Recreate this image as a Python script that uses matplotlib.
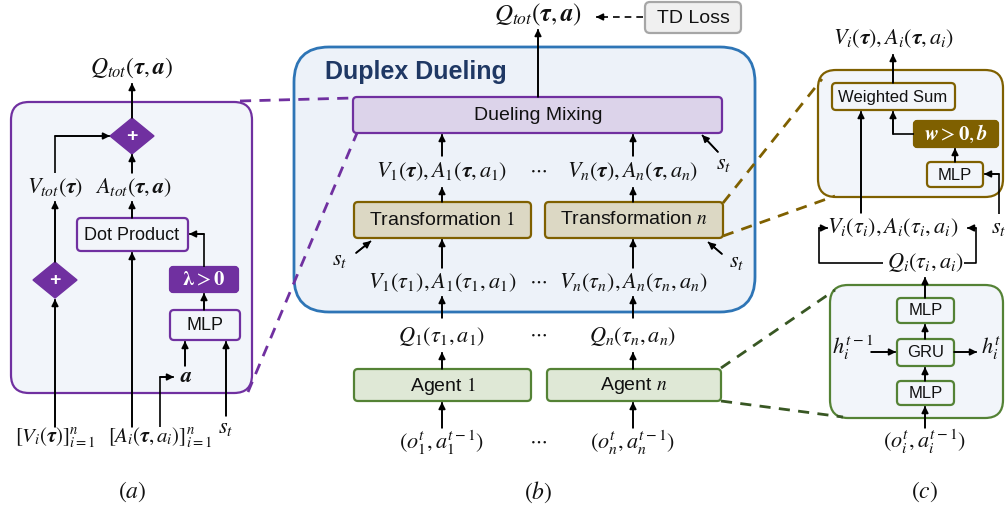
import matplotlib.pyplot as plt
from matplotlib.patches import FancyBboxPatch, Polygon

plt.rcParams['font.family'] = ['Liberation Sans', 'DejaVu Sans']
plt.rcParams['mathtext.fontset'] = 'stix'

# texte des trois panneaux
panel_tags = ["$(a)$", "$(b)$", "$(c)$"]

# panneau (a)
a_output = r"$Q_{tot}(\boldsymbol{\tau},\boldsymbol{a})$"
a_mid = [r"$V_{tot}(\boldsymbol{\tau})$", r"$A_{tot}(\boldsymbol{\tau},\boldsymbol{a})$"]
a_boxes = ["Dot Product", r"$\boldsymbol{\lambda}>\mathbf{0}$", "MLP"]
a_inputs = [r"$[V_i(\boldsymbol{\tau})]_{i=1}^{n}$",
            r"$[A_i(\boldsymbol{\tau},a_i)]_{i=1}^{n}$", r"$s_t$"]
a_action = r"$\boldsymbol{a}$"

# panneau (b)
b_output = r"$Q_{tot}(\boldsymbol{\tau},\boldsymbol{a})$"
b_title = "Duplex Dueling"
b_loss = "TD Loss"
b_mixing = "Dueling Mixing"
b_transform = ["Transformation $1$", "Transformation $n$"]
b_agents = ["Agent $1$", "Agent $n$"]
b_row_global = [r"$V_1(\boldsymbol{\tau}),A_1(\boldsymbol{\tau},a_1)$",
                r"$V_n(\boldsymbol{\tau}),A_n(\boldsymbol{\tau},a_n)$"]
b_row_local = [r"$V_1(\tau_1),A_1(\tau_1,a_1)$", r"$V_n(\tau_n),A_n(\tau_n,a_n)$"]
b_row_q = [r"$Q_1(\tau_1,a_1)$", r"$Q_n(\tau_n,a_n)$"]
b_row_obs = [r"$(o_1^t,a_1^{t-1})$", r"$(o_n^t,a_n^{t-1})$"]

# panneau (c)
c_output = r"$V_i(\boldsymbol{\tau}),A_i(\boldsymbol{\tau},a_i)$"
c_local = r"$V_i(\tau_i),A_i(\tau_i,a_i)$"
c_q = r"$Q_i(\tau_i,a_i)$"
c_boxes = ["Weighted Sum", r"$\boldsymbol{w}>\mathbf{0},\boldsymbol{b}$", "MLP"]
c_agent_boxes = ["MLP", "GRU", "MLP"]
c_hidden = [r"$h_i^{t-1}$", r"$h_i^{t}$"]
c_obs = r"$(o_i^t,a_i^{t-1})$"

# couleurs
roxo = '#7030a0'
fundo = '#f2f5fa'
azul = '#2e75b6'
oliva = '#7f6000'
verde = '#548235'
M = 16  # taille des formules

fig = plt.figure(figsize=(10.05, 5.09), dpi=100)
ax = fig.add_axes([0, 0, 1, 1])
ax.set_xlim(0, 1005)
ax.set_ylim(509, 0)
ax.axis('off')


def caixa(x0, y0, x1, y1, fc, ec, r=4, lw=1.6, z=3):
    ax.add_patch(FancyBboxPatch((x0, y0), x1 - x0, y1 - y0,
                                boxstyle=f"round,pad=0,rounding_size={r}",
                                fc=fc, ec=ec, lw=lw, zorder=z))


def texto(x, y, s, size=13, color='#111111', **kw):
    ax.text(x, y, s, ha=kw.pop('ha', 'center'), va=kw.pop('va', 'center'),
            fontsize=size, color=color, zorder=6, **kw)


def seta(pts, color='black', lw=1.2, ls='-'):
    xs = [p[0] for p in pts]
    ys = [p[1] for p in pts]
    ax.plot(xs, ys, color=color, lw=lw, ls=ls, zorder=4, solid_capstyle='butt')
    ax.annotate('', xy=pts[-1], xytext=pts[-2],
                arrowprops=dict(arrowstyle='-|>', color=color, lw=lw,
                                mutation_scale=10, shrinkA=0, shrinkB=0),
                zorder=5)


def losango(cx, cy, w=22, h=18):
    ax.add_patch(Polygon([(cx - w, cy), (cx, cy - h), (cx + w, cy), (cx, cy + h)],
                         closed=True, fc=roxo, ec=roxo, zorder=3))
    texto(cx, cy, "+", size=14, color='white', fontweight='bold')


def tracejada(p0, p1, color):
    ax.plot([p0[0], p1[0]], [p0[1], p1[1]], color=color, lw=2, ls=(0, (4, 3)), zorder=2)


# ---------------- painel (a)
caixa(11, 102, 252, 393, fundo, roxo, r=18, z=1)
texto(132, 68, a_output, size=17)
seta([(132, 118), (132, 83)])
losango(132, 136)
texto(55, 188, a_mid[0], size=M)
texto(133, 188, a_mid[1], size=M)
seta([(55, 173), (55, 136), (110, 136)])
seta([(132, 173), (132, 154)])
caixa(77, 218, 188, 251, fundo, roxo)
texto(132, 235, a_boxes[0], size=13)
seta([(132, 218), (132, 201)])
losango(55, 280)
seta([(55, 262), (55, 201)])
seta([(55, 427), (55, 299)])
caixa(170, 267, 238, 292, roxo, roxo, r=3)
texto(204, 280, a_boxes[1], size=15, color='white')
seta([(204, 267), (204, 234), (189, 234)])
caixa(170, 310, 240, 340, fundo, roxo)
texto(205, 325, a_boxes[2], size=13)
seta([(204, 310), (204, 293)])
texto(186, 377, a_action, size=M)
seta([(185, 366), (185, 341)])
seta([(160, 427), (160, 377), (174, 377)])
seta([(132, 427), (132, 252)])
seta([(226, 416), (226, 341)])
texto(55, 438, a_inputs[0], size=15)
texto(160, 438, a_inputs[1], size=15)
texto(226, 428, a_inputs[2], size=M)
texto(132, 492, panel_tags[0], size=17)
tracejada((240, 101), (353, 98), roxo)
tracejada((248, 392), (357, 133), roxo)

# ---------------- painel (b)
caixa(294, 47, 755, 312, '#edf2f9', azul, r=35, lw=2, z=1)
texto(325, 72, b_title, size=18, color='#1f3864', ha='left', fontweight='bold')
texto(538, 15, b_output, size=18)
caixa(645, 2, 741, 33, '#f0f0f0', '#a6a6a6', r=5)
texto(693, 18, b_loss, size=14)
ax.plot([643, 604], [17, 17], color='black', lw=1.2, ls=(0, (4, 3)), zorder=4)
seta([(604, 17), (596, 17)])
seta([(538, 97), (538, 29)])
caixa(353, 97, 722, 133, '#dcd3ea', roxo)
texto(538, 115, b_mixing, size=14)
for x, lab in zip([442, 633], b_row_global):
    texto(x, 172, lab, size=M)
    seta([(x, 156), (x, 134)])
    seta([(x, 202), (x, 187)])
texto(538, 170, r"$\cdots$", size=14)
texto(724, 163, r"$s_t$", size=M)
seta([(718, 152), (702, 135)])
for (x0, x1), lab in zip([(354, 531), (545, 723)], b_transform):
    caixa(x0, 202, x1, 238, '#dcd8c4', oliva)
    texto((x0 + x1) / 2, 220, lab, size=14)
texto(340, 259, r"$s_t$", size=M)
seta([(356, 253), (371, 241)])
texto(737, 262, r"$s_t$", size=M)
seta([(722, 254), (708, 242)])
for x, lab in zip([442, 633], b_row_local):
    texto(x, 283, lab, size=M)
    seta([(x, 268), (x, 239)])
    seta([(x, 318), (x, 296)])
texto(538, 281, r"$\cdots$", size=14)
for x, lab in zip([442, 633], b_row_q):
    texto(x, 337, lab, size=M)
    seta([(x, 369), (x, 352)])
texto(538, 334, r"$\cdots$", size=14)
for (x0, x1), lab in zip([(354, 531), (547, 721)], b_agents):
    caixa(x0, 369, x1, 401, '#dfe8d6', verde)
    texto((x0 + x1) / 2, 386, lab, size=14)
for x, lab in zip([442, 633], b_row_obs):
    texto(x, 443, lab, size=M)
    seta([(x, 428), (x, 402)])
texto(538, 441, r"$\cdots$", size=14)
texto(538, 492, panel_tags[1], size=17)
tracejada((723, 203), (822, 79), oliva)
tracejada((723, 236), (835, 196), oliva)
tracejada((721, 368), (835, 290), '#385723')
tracejada((721, 401), (843, 417), '#385723')

# ---------------- painel (c)
caixa(818, 70, 1003, 197, fundo, oliva, r=18, z=1)
texto(893, 39, c_output, size=M)
seta([(893, 83), (893, 54)])
caixa(832, 83, 955, 110, fundo, oliva)
texto(893, 97, c_boxes[0], size=12)
caixa(914, 121, 998, 147, oliva, oliva, r=3)
texto(956, 134, c_boxes[1], size=15, color='white')
seta([(914, 134), (893, 134), (893, 111)])
caixa(927, 162, 983, 187, fundo, oliva)
texto(955, 175, c_boxes[2], size=12)
seta([(955, 162), (955, 148)])
seta([(861, 213), (861, 111)])
texto(999, 228, r"$s_t$", size=M)
seta([(999, 214), (999, 174), (984, 174)])
texto(893, 228, c_local, size=M)
texto(925, 263, c_q, size=M)
seta([(883, 263), (819, 263), (819, 228), (828, 228)])
seta([(964, 263), (976, 263), (976, 228), (967, 228)])
caixa(830, 285, 1003, 418, fundo, verde, r=18, z=1)
for (y0, y1), lab in zip([(298, 323), (339, 366), (381, 405)], c_agent_boxes):
    caixa(897, y0, 954, y1, fundo, verde)
    texto(925.5, (y0 + y1) / 2, lab, size=12)
seta([(925, 298), (925, 277)])
seta([(925, 339), (925, 324)])
seta([(925, 381), (925, 367)])
seta([(925, 428), (925, 406)])
texto(853, 348, c_hidden[0], size=M)
seta([(871, 352), (896, 352)])
seta([(954, 352), (977, 352)])
texto(991, 348, c_hidden[1], size=M)
texto(925, 442, c_obs, size=M)
texto(925, 492, panel_tags[2], size=17)

fig.savefig('out.png', dpi=100)
